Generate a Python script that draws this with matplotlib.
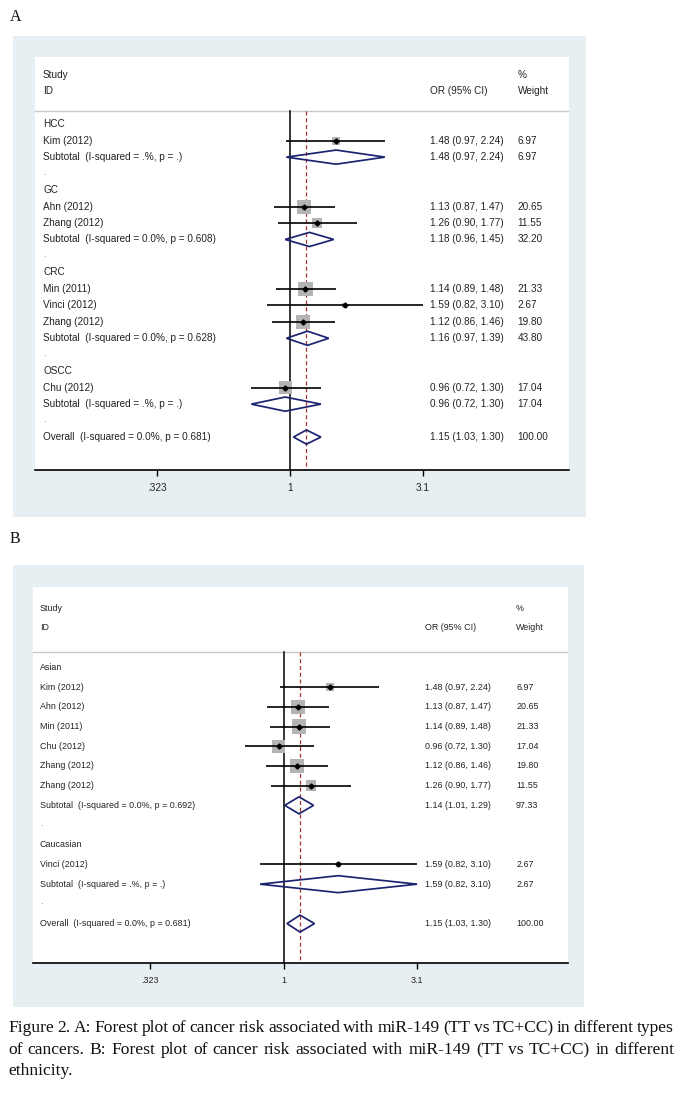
import numpy as np
import matplotlib
matplotlib.use('Agg')
import matplotlib.pyplot as plt
from matplotlib.patches import Rectangle, Polygon
from matplotlib.transforms import blended_transform_factory

# ---------------- data ----------------
# Panel A: by cancer type
groups_A = ['HCC', 'GC', 'CRC', 'OSCC']
study_A = ['Kim (2012)', 'Ahn (2012)', 'Zhang (2012)', 'Min (2011)', 'Vinci (2012)', 'Zhang (2012)', 'Chu (2012)']
group_A = [0, 1, 1, 2, 2, 2, 3]
or_A = [1.48, 1.13, 1.26, 1.14, 1.59, 1.12, 0.96]
lo_A = [0.97, 0.87, 0.90, 0.89, 0.82, 0.86, 0.72]
hi_A = [2.24, 1.47, 1.77, 1.48, 3.10, 1.46, 1.30]
w_A = [6.97, 20.65, 11.55, 21.33, 2.67, 19.80, 17.04]
sub_or_A = [1.48, 1.18, 1.16, 0.96]
sub_lo_A = [0.97, 0.96, 0.97, 0.72]
sub_hi_A = [2.24, 1.45, 1.39, 1.30]
sub_w_A = [6.97, 32.20, 43.80, 17.04]
sub_i2_A = ['.%', '0.0%', '0.0%', '.%']
sub_p_A = ['.', '0.608', '0.628', '.']

# Panel B: by ethnicity
groups_B = ['Asian', 'Caucasian']
study_B = ['Kim (2012)', 'Ahn (2012)', 'Min (2011)', 'Chu (2012)', 'Zhang (2012)', 'Zhang (2012)', 'Vinci (2012)']
group_B = [0, 0, 0, 0, 0, 0, 1]
or_B = [1.48, 1.13, 1.14, 0.96, 1.12, 1.26, 1.59]
lo_B = [0.97, 0.87, 0.89, 0.72, 0.86, 0.90, 0.82]
hi_B = [2.24, 1.47, 1.48, 1.30, 1.46, 1.77, 3.10]
w_B = [6.97, 20.65, 21.33, 17.04, 19.80, 11.55, 2.67]
sub_or_B = [1.14, 1.59]
sub_lo_B = [1.01, 0.82]
sub_hi_B = [1.29, 3.10]
sub_w_B = [97.33, 2.67]
sub_i2_B = ['0.0%', '.%']
sub_p_B = ['0.692', '.']

# Overall (same in both panels)
overall_or = 1.15
overall_lo = 1.03
overall_hi = 1.30
overall_w = 100.00
overall_i2 = '0.0%'
overall_p = '0.681'

tick_vals = [0.323, 1, 3.1]
tick_labels = ['.323', '1', '3.1']

caption_lines = [
    "Figure 2. A: Forest plot of cancer risk associated with miR-149 (TT vs TC+CC) in different types",
    "of cancers. B: Forest plot of cancer risk associated with miR-149 (TT vs TC+CC) in different",
    "ethnicity.",
]

# ---------------- styling ----------------
W, H = 682, 1103
fig = plt.figure(figsize=(W / 100, H / 100), dpi=100)
SANS = ['Liberation Sans', 'DejaVu Sans']
SERIF = ['Liberation Serif', 'DejaVu Serif']
BG = '#e8eff2'
NAVY = '#1c2470'
RED = '#a83232'
BOXC = '#b4b4b4'
TXT = '#222222'


def fx(x):
    return x / W


def fy(y):
    return 1 - y / H


def fmt_ci(o, l, h):
    return f"{o:.2f} ({l:.2f}, {h:.2f})"


def panel(letter, letter_y, outer, inner, xlim, fs, col_or, col_w, col_lab,
          groups, grp, names, ors, los, his, ws, s_or, s_lo, s_hi, s_w, s_i2, s_p):
    ox0, oy0, ox1, oy1 = outer
    ix0, iy0, ix1, iy1 = inner
    fig.text(fx(10), fy(letter_y), letter, family=SERIF, fontsize=11.5,
             ha='left', va='center', color='#111111')
    fig.patches.append(Rectangle((fx(ox0), fy(oy1)), (ox1 - ox0) / W, (oy1 - oy0) / H,
                                 transform=fig.transFigure, facecolor=BG,
                                 edgecolor='none', zorder=-5))
    ax = fig.add_axes([fx(ix0), fy(iy1), (ix1 - ix0) / W, (iy1 - iy0) / H])
    ax.set_zorder(2)
    ax.set_facecolor('white')

    # build row list
    rows = []
    for g, gname in enumerate(groups):
        rows.append(('head', g))
        for k in range(len(names)):
            if grp[k] == g:
                rows.append(('study', k))
        rows.append(('sub', g))
        rows.append(('dot', g))
    rows.append(('overall', None))
    nrow = len(rows)

    ax.set_xscale('log')
    ax.set_xlim(*xlim)
    ax.set_ylim(nrow + 1, -4.08)
    tr = blended_transform_factory(ax.transAxes, ax.transData)

    def txt(xf, y, s, **kw):
        ax.text(xf, y, s, transform=tr, fontsize=fs, family=SANS, color=TXT,
                va='center', ha='left', **kw)

    # header
    txt(col_lab, -3.0, 'Study')
    txt(col_lab, -2.0, 'ID')
    txt(col_or, -2.0, 'OR (95% CI)')
    txt(col_w, -3.0, '%')
    txt(col_w, -2.0, 'Weight')
    ax.axhline(-0.8, color='#c8c8c8', lw=1.0, zorder=1)

    hh = 0.43  # diamond half-height (rows)
    for r, (kind, k) in enumerate(rows):
        if kind == 'head':
            txt(col_lab, r, groups[k])
        elif kind == 'study':
            txt(col_lab, r, names[k])
            ax.plot([los[k], his[k]], [r, r], color='black', lw=1.2, zorder=3,
                    solid_capstyle='butt')
            side = 2.22 * np.sqrt(ws[k])
            ax.scatter([ors[k]], [r], marker='s', s=side ** 2, color=BOXC,
                       edgecolors='none', zorder=2)
            ax.plot([ors[k]], [r], marker='D', ms=2.6, color='black', zorder=4)
            txt(col_or, r, fmt_ci(ors[k], los[k], his[k]))
            txt(col_w, r, f"{ws[k]:.2f}")
        elif kind == 'sub':
            txt(col_lab, r, f"Subtotal  (I-squared = {s_i2[k]}, p = {s_p[k]})")
            ax.add_patch(Polygon([[s_lo[k], r], [s_or[k], r - hh], [s_hi[k], r],
                                  [s_or[k], r + hh]], closed=True, facecolor='none',
                                 edgecolor=NAVY, lw=1.25, zorder=5))
            txt(col_or, r, fmt_ci(s_or[k], s_lo[k], s_hi[k]))
            txt(col_w, r, f"{s_w[k]:.2f}")
        elif kind == 'dot':
            txt(col_lab, r - 0.1, '.', alpha=0.5)
        else:
            txt(col_lab, r, f"Overall  (I-squared = {overall_i2}, p = {overall_p})")
            ax.add_patch(Polygon([[overall_lo, r], [overall_or, r - hh], [overall_hi, r],
                                  [overall_or, r + hh]], closed=True, facecolor='none',
                                 edgecolor=NAVY, lw=1.25, zorder=5))
            txt(col_or, r, fmt_ci(overall_or, overall_lo, overall_hi))
            txt(col_w, r, f"{overall_w:.2f}")

    # reference lines
    ax.plot([1, 1], [-0.8, nrow + 1], color='black', lw=1.1, zorder=1)
    ax.plot([overall_or, overall_or], [-0.8, nrow + 1], color=RED, lw=0.9,
            dashes=(3.2, 2.2), zorder=1)

    for s in ['top', 'left', 'right']:
        ax.spines[s].set_visible(False)
    ax.spines['bottom'].set_linewidth(1.2)
    ax.set_yticks([])
    ax.set_xticks(tick_vals)
    ax.set_xticklabels(tick_labels, family=SANS, fontsize=fs, color=TXT)
    ax.minorticks_off()
    ax.tick_params(axis='x', which='major', direction='out', length=4.5, width=1.0,
                   pad=5)
    return ax


panel('A', 17, (13, 36, 586, 517), (35, 57, 569, 470), (0.1144, 10.72), 7.2,
      0.74, 0.904, 0.015,
      groups_A, group_A, study_A, or_A, lo_A, hi_A, w_A,
      sub_or_A, sub_lo_A, sub_hi_A, sub_w_A, sub_i2_A, sub_p_A)

panel('B', 539, (13, 565, 584, 1007), (33, 587, 568, 963), (0.1197, 11.14), 6.4,
      0.733, 0.903, 0.013,
      groups_B, group_B, study_B, or_B, lo_B, hi_B, w_B,
      sub_or_B, sub_lo_B, sub_hi_B, sub_w_B, sub_i2_B, sub_p_B)

# ---------------- justified caption ----------------
renderer = fig.canvas.get_renderer()
cap_fs = 12.6
cap_x0, cap_x1 = 8, 674
cap_ys = [1028, 1050, 1071]
for li, (line, yy) in enumerate(zip(caption_lines, cap_ys)):
    words = line.split(' ')
    ts = [fig.text(0, fy(yy), w_, family=SERIF, fontsize=cap_fs, color='#111111',
                   ha='left', va='center') for w_ in words]
    widths = [t.get_window_extent(renderer).width for t in ts]
    sp = fig.text(0, 0, 'a a', family=SERIF, fontsize=cap_fs)
    aw = fig.text(0, 0, 'aa', family=SERIF, fontsize=cap_fs)
    space_w = sp.get_window_extent(renderer).width - aw.get_window_extent(renderer).width
    sp.remove()
    aw.remove()
    if li < len(caption_lines) - 1 and len(words) > 1:
        gap = max((cap_x1 - cap_x0 - sum(widths)) / (len(words) - 1), space_w * 0.6)
    else:
        gap = space_w
    x = cap_x0
    for t, wd in zip(ts, widths):
        t.set_x(fx(x))
        x += wd + gap

fig.savefig('out.png', dpi=100, facecolor='white')
